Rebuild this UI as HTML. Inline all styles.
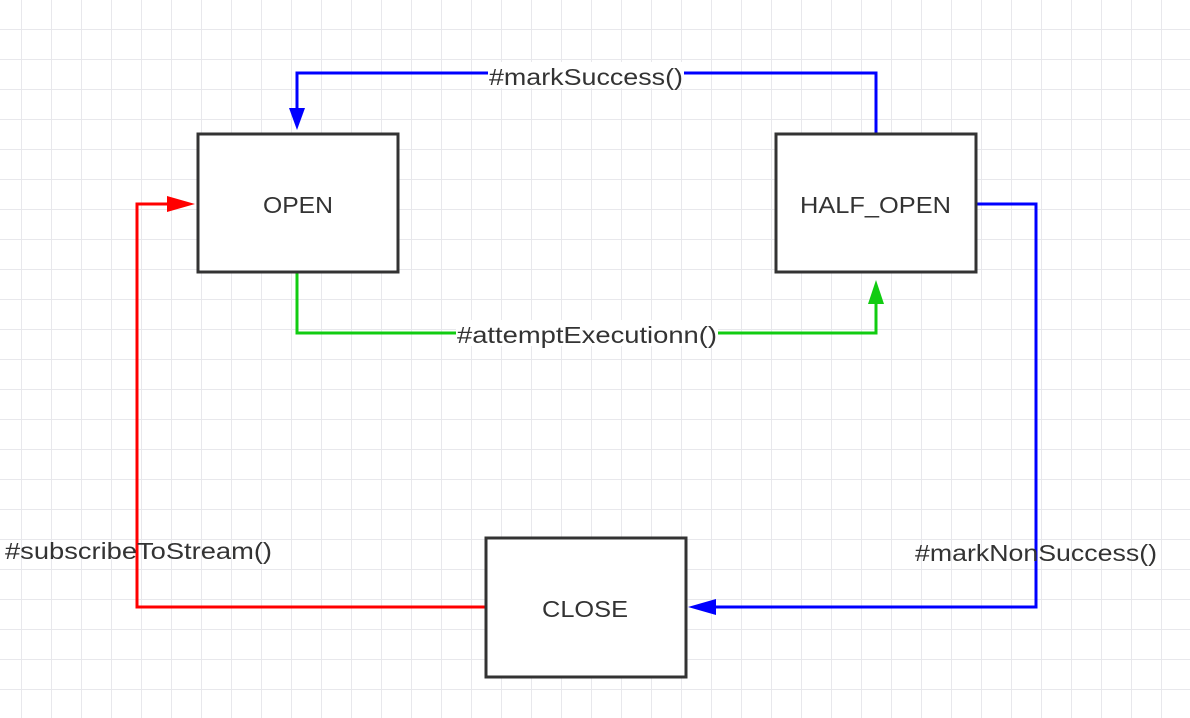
<!DOCTYPE html>
<html><head><meta charset="utf-8"><style>
html,body{margin:0;padding:0;background:#fff;}
svg{display:block;}
text{font-family:"Liberation Sans",sans-serif;fill:#333;}
</style></head><body>
<svg width="1190" height="718" viewBox="0 0 1190 718">
<defs>
<pattern id="g" x="21" y="29" width="30" height="30" patternUnits="userSpaceOnUse">
<path d="M0 0H30M0 0V30" stroke="#e8e8ec" stroke-width="2" fill="none"/>
</pattern>
</defs>
<rect width="1190" height="718" fill="url(#g)"/>
<g fill="none" stroke-width="3">
<polyline points="876,133 876,73 297,73 297,118" stroke="#0000ff"/>
<polyline points="297,272 297,333 876,333 876,287" stroke="#11cc11"/>
<polyline points="485,607 137,607 137,204 182,204" stroke="#ff0000"/>
<polyline points="976,204 1036,204 1036,607 701,607" stroke="#0000ff"/>
</g>
<polygon points="289,108 305,108 297,130" fill="#0000ff"/>
<polygon points="868,304 884,304 876,280" fill="#11cc11"/>
<polygon points="167,196 167,212 195,204" fill="#ff0000"/>
<polygon points="716,599 716,615 688,607" fill="#0000ff"/>
<g fill="#fff" stroke="#333" stroke-width="3">
<rect x="198" y="134" width="200" height="138"/>
<rect x="776" y="134" width="200" height="138"/>
<rect x="486" y="538" width="200" height="139"/>
</g>
<g font-size="23" lengthAdjust="spacingAndGlyphs">
<text x="263" y="213" textLength="70" lengthAdjust="spacingAndGlyphs">OPEN</text>
<text x="800" y="213" textLength="151" lengthAdjust="spacingAndGlyphs">HALF_OPEN</text>
<text x="542" y="617" textLength="86" lengthAdjust="spacingAndGlyphs">CLOSE</text>
</g>
<rect x="488" y="62" width="196" height="26" fill="#fff"/>
<rect x="456" y="320" width="262" height="26" fill="#fff"/>
<g font-size="23">
<text x="489" y="85" textLength="194" lengthAdjust="spacingAndGlyphs">#markSuccess()</text>
<text x="457" y="343" textLength="260" lengthAdjust="spacingAndGlyphs">#attemptExecutionn()</text>
<text x="5" y="559" textLength="267" lengthAdjust="spacingAndGlyphs">#subscribeToStream()</text>
<text x="915" y="561" textLength="242" lengthAdjust="spacingAndGlyphs">#markNonSuccess()</text>
</g>
</svg>
</body></html>
